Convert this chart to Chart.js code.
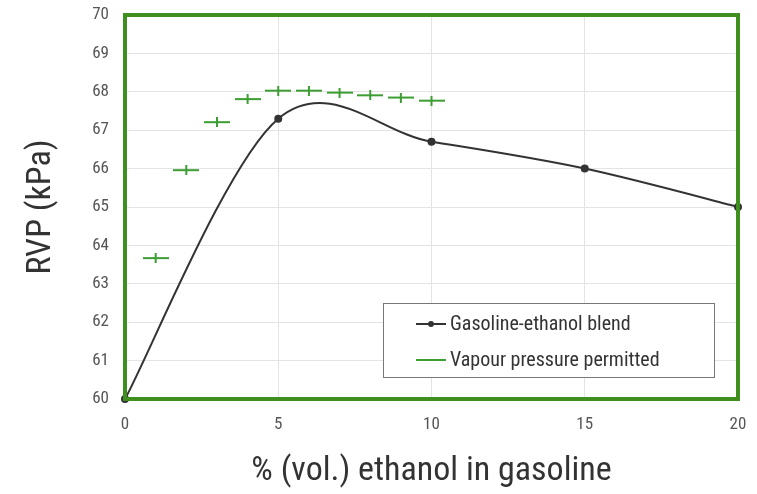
<!DOCTYPE html>
<html>
<head>
<meta charset="utf-8">
<script src="https://cdn.jsdelivr.net/npm/chart.js@4"></script>
<style>
  html, body { margin: 0; padding: 0; background: #fff; }
  #wrap { width: 757px; height: 494px; }
</style>
</head>
<body>
<div id="wrap"><canvas id="chart" width="757" height="494"></canvas></div>
<script>
const FONT = '"Roboto Condensed", "Liberation Sans Narrow", Roboto, sans-serif';

// blend curve
const blendX = [0, 5, 10, 15, 20];
const blendY = [60, 67.3, 66.7, 66.0, 65.0];

// permitted vapour pressure
const permX = [1, 2, 3, 4, 5, 6, 7, 8, 9, 10];
const permY = [63.67, 65.96, 67.21, 67.81, 68.03, 68.03, 67.98, 67.91, 67.85, 67.77];

const xTicks = [0, 5, 10, 15, 20];
const yTicks = [60, 61, 62, 63, 64, 65, 66, 67, 68, 69, 70];

const GREEN = '#3c9e32';

// little "+" with a long horizontal arm
const dash = document.createElement('canvas');
dash.width = 26; dash.height = 10;
(function () {
  const c = dash.getContext('2d');
  c.strokeStyle = GREEN;
  c.lineWidth = 2;
  c.beginPath();
  c.moveTo(0, 5); c.lineTo(26, 5);
  c.moveTo(13, 0); c.lineTo(13, 10);
  c.stroke();
})();

// excel-like smoothing: catmull-rom control points
const smooth = {
  id: 'smooth',
  beforeDatasetsDraw(chart) {
    const meta = chart.getDatasetMeta(0);
    meta.dataset.updateControlPoints(chart.chartArea, 'x');
    const pts = meta.data;
    pts.forEach((p, i) => {
      const a = pts[i - 1] || p, b = pts[i + 1] || p;
      const dx = (b.x - a.x) / 6, dy = (b.y - a.y) / 6;
      p.cp1x = p.x - dx; p.cp1y = p.y - dy;
      p.cp2x = p.x + dx; p.cp2y = p.y + dy;
    });
  }
};

const frame = {
  id: 'frame',
  afterDatasetsDraw(chart) {
    const { ctx, chartArea: a } = chart;
    ctx.save();
    ctx.strokeStyle = '#3f8f1f';
    ctx.lineWidth = 4;
    ctx.strokeRect(a.left, a.top, a.right - a.left, a.bottom - a.top);
    ctx.restore();
  },
  afterDraw(chart) {
    const { ctx, chartArea: a } = chart;
    const w = 331, h = 74;
    const x = a.right - 24 - w, y = a.bottom - 22 - h;
    ctx.save();
    ctx.fillStyle = '#fff';
    ctx.fillRect(x, y, w, h);
    ctx.strokeStyle = '#777';
    ctx.lineWidth = 1;
    ctx.strokeRect(x + 0.5, y + 0.5, w, h);
    ctx.font = '20px ' + FONT;
    ctx.textBaseline = 'middle';
    const rows = [
      { label: chart.data.datasets[0].label, color: '#333', dot: true, yy: y + 21 },
      { label: chart.data.datasets[1].label, color: GREEN, dot: false, yy: y + 57 }
    ];
    rows.forEach(r => {
      ctx.strokeStyle = r.color;
      ctx.lineWidth = 2;
      ctx.beginPath();
      ctx.moveTo(x + 33, r.yy); ctx.lineTo(x + 63, r.yy);
      ctx.stroke();
      if (r.dot) {
        ctx.fillStyle = r.color;
        ctx.beginPath(); ctx.arc(x + 48, r.yy, 3, 0, Math.PI * 2); ctx.fill();
      }
      ctx.fillStyle = '#333';
      ctx.fillText(r.label, x + 67, r.yy + 1);
    });
    ctx.restore();
  }
};

new Chart(document.getElementById('chart'), {
  type: 'scatter',
  data: {
    datasets: [
      {
        label: 'Gasoline-ethanol blend',
        data: blendX.map((x, i) => ({ x, y: blendY[i] })),
        showLine: true,
        borderColor: '#333',
        backgroundColor: '#333',
        borderWidth: 2,
        pointRadius: 3,
        tension: 0.4,
        clip: false
      },
      {
        label: 'Vapour pressure permitted',
        data: permX.map((x, i) => ({ x, y: permY[i] })),
        showLine: false,
        pointStyle: dash,
        borderColor: GREEN
      }
    ]
  },
  options: {
    responsive: false,
    animation: false,
    layout: { padding: { top: 15, right: 19, left: 0, bottom: 0 } },
    plugins: { legend: { display: false }, tooltip: { enabled: false } },
    scales: {
      x: {
        type: 'linear', min: 0, max: 20,
        afterBuildTicks: s => { s.ticks = xTicks.map(v => ({ value: v })); },
        afterFit: s => { s.height = 95; s.paddingLeft = 0; s.paddingRight = 0; },
        grid: { color: '#e4e4e4', drawTicks: false },
        border: { display: false },
        ticks: { font: { family: FONT, size: 17 }, color: '#555', padding: 16 },
        title: { display: true, text: '% (vol.) ethanol in gasoline', font: { family: FONT, size: 34 }, color: '#333', padding: { top: 4, bottom: 2 } }
      },
      y: {
        min: 60, max: 70,
        afterBuildTicks: s => { s.ticks = yTicks.map(v => ({ value: v })); },
        afterFit: s => { s.width = 125; s.paddingTop = 0; s.paddingBottom = 0; },
        grid: { color: '#e4e4e4', drawTicks: false },
        border: { display: false },
        ticks: { font: { family: FONT, size: 17 }, color: '#555', padding: 16 },
        title: { display: true, text: 'RVP (kPa)', font: { family: FONT, size: 34 }, color: '#333', padding: { top: 21, bottom: 4 } }
      }
    }
  },
  plugins: [smooth, frame]
});
</script>
</body>
</html>
